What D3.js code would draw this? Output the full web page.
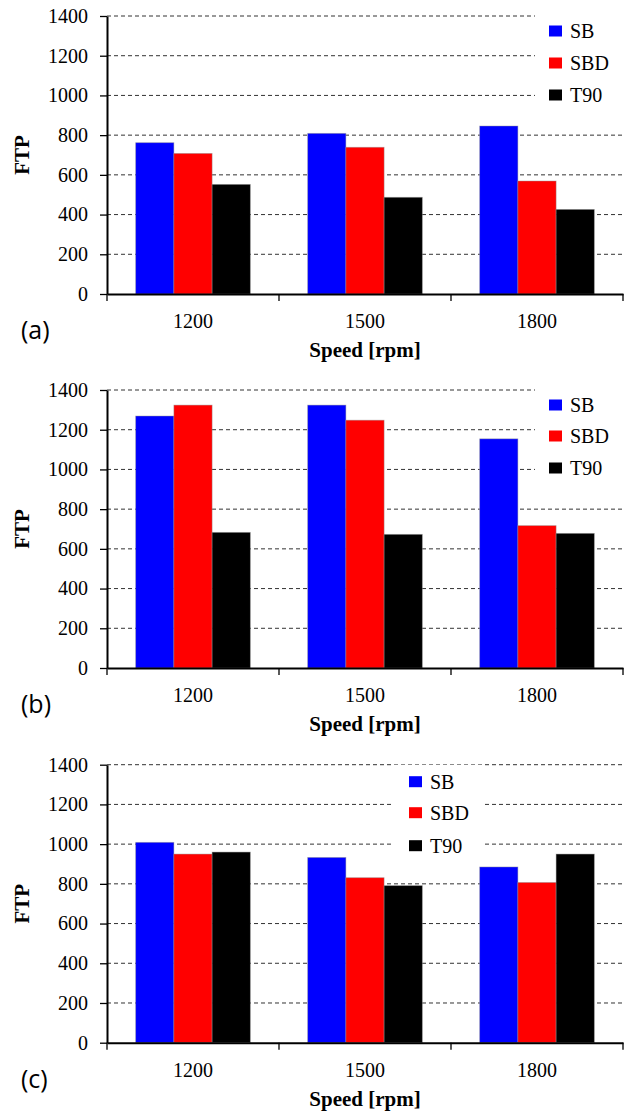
<!DOCTYPE html>
<html>
<head>
<meta charset="utf-8">
<script src="https://cdn.jsdelivr.net/npm/d3@7"></script>
<style>
  html, body { margin: 0; padding: 0; background: #fff; }
  svg { display: block; }
</style>
</head>
<body>
<script>
// ---- data ----
const categories = ["1200", "1500", "1800"];
const seriesNames = ["SB", "SBD", "T90"];
const seriesColors = ["#0000FF", "#FF0000", "#000000"];
const yTicks = [0, 200, 400, 600, 800, 1000, 1200, 1400];

const panelA_SB  = [762, 809, 846];
const panelA_SBD = [708, 739, 569];
const panelA_T90 = [552, 487, 426];

const panelB_SB  = [1269, 1324, 1154];
const panelB_SBD = [1324, 1248, 717];
const panelB_T90 = [683, 673, 678];

const panelC_SB  = [1009, 933, 885];
const panelC_SBD = [950, 831, 807];
const panelC_T90 = [960, 791, 950];

const panelLabels = ["(a)", "(b)", "(c)"];
const xTitle = "Speed [rpm]";
const yTitle = "FTP";

const panels = [
  { label: panelLabels[0], values: [panelA_SB, panelA_SBD, panelA_T90], top: 16,    legend: { x: 549, boxX: 535, boxW: 90, offs: [15, 47, 79] } },
  { label: panelLabels[1], values: [panelB_SB, panelB_SBD, panelB_T90], top: 390,   legend: { x: 549, boxX: 535, boxW: 90, offs: [15, 46, 78] } },
  { label: panelLabels[2], values: [panelC_SB, panelC_SBD, panelC_T90], top: 764.7, legend: { x: 409, boxX: 393, boxW: 92, offs: [17, 48, 81] } }
];

// ---- layout ----
const W = 625, H = 1113;
const left = 107, right = 623, plotH = 278;
const serif = "Liberation Serif, Times New Roman, serif";

const svg = d3.select("body").append("svg").attr("width", W).attr("height", H)
  .style("font-family", serif);

const x = d3.scaleBand().domain(categories).range([left, right]).paddingInner(0).paddingOuter(0);
const xs = d3.scaleBand().domain(seriesNames).range([0, x.bandwidth()]).paddingInner(0).paddingOuter(0.75);

panels.forEach(p => {
  const y = d3.scaleLinear().domain([0, 1400]).range([p.top + plotH, p.top]);
  const g = svg.append("g");
  const y0 = y(0);

  // gridlines
  g.append("g").selectAll("line").data(yTicks.filter(t => t > 0)).join("line")
    .attr("x1", left).attr("x2", right)
    .attr("y1", d => y(d)).attr("y2", d => y(d))
    .attr("stroke", "#333").attr("stroke-width", 1)
    .attr("stroke-dasharray", "4,3");

  // bars
  seriesNames.forEach((s, si) => {
    g.append("g").selectAll("rect").data(p.values[si]).join("rect")
      .attr("x", (d, i) => x(categories[i]) + xs(s))
      .attr("width", xs.bandwidth())
      .attr("y", d => y(d))
      .attr("height", d => y0 - y(d))
      .attr("fill", seriesColors[si])
      .attr("stroke", "rgba(150,150,150,0.55)")
      .attr("stroke-width", 0.8);
  });

  // y axis
  const yAxis = d3.axisLeft(y).tickValues(yTicks).tickFormat(d3.format("d"))
    .tickSize(7).tickSizeOuter(0).tickPadding(12);
  const ya = g.append("g").attr("transform", `translate(${left},0)`).call(yAxis)
    .attr("font-family", serif).attr("font-size", 20);
  ya.select(".domain").attr("stroke", "#000").attr("stroke-width", 2);
  ya.selectAll(".tick line").attr("stroke", "#000").attr("stroke-width", 1.3);
  ya.selectAll(".tick text").style("font-family", serif).style("font-size", "20px").attr("fill", "#000");

  // x axis
  const xAxis = d3.axisBottom(x).tickSize(0).tickSizeOuter(0).tickPadding(20);
  const xa = g.append("g").attr("transform", `translate(0,${y0})`).call(xAxis)
    .attr("font-family", serif).attr("font-size", 20);
  xa.select(".domain").attr("stroke", "#000").attr("stroke-width", 2);
  xa.selectAll(".tick text").style("font-family", serif).style("font-size", "20px").attr("fill", "#000");
  const bounds = categories.map(c => x(c)).concat([x.range()[1]]);
  g.append("g").selectAll("line").data(bounds).join("line")
    .attr("x1", d => d).attr("x2", d => d)
    .attr("y1", y0).attr("y2", y0 + 7)
    .attr("stroke", "#000").attr("stroke-width", 1.3);

  // axis titles
  g.append("text")
    .attr("transform", `translate(29,${(p.top + y0) / 2}) rotate(-90)`)
    .attr("text-anchor", "middle")
    .style("font-family", serif).attr("font-weight", "bold").style("font-size", "21px")
    .text(yTitle);
  g.append("text")
    .attr("x", (left + right) / 2).attr("y", y0 + 63)
    .attr("text-anchor", "middle")
    .style("font-family", serif).attr("font-weight", "bold").style("font-size", "21px")
    .text(xTitle);

  // panel label
  g.append("text")
    .attr("x", 21).attr("y", y0 + 45)
    .style("font-family", "Open Sans, Lato, sans-serif").style("font-size", "25px")
    .attr("fill", "#000")
    .text(p.label);

  // legend
  const L = p.legend;
  g.append("rect")
    .attr("x", L.boxX).attr("y", p.top + L.offs[0] - 17)
    .attr("width", L.boxW).attr("height", L.offs[2] - L.offs[0] + 34)
    .attr("fill", "#fff");
  seriesNames.forEach((s, si) => {
    const cy = p.top + L.offs[si];
    g.append("rect")
      .attr("x", L.x).attr("y", cy - 5.5)
      .attr("width", 13).attr("height", 11)
      .attr("fill", seriesColors[si]);
    g.append("text")
      .attr("x", L.x + 21).attr("y", cy + 7)
      .style("font-family", serif).style("font-size", "20px").attr("fill", "#000")
      .text(s);
  });
});
</script>
</body>
</html>
